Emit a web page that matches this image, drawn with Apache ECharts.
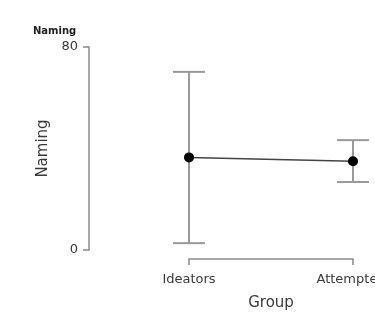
<!DOCTYPE html>
<html>
<head>
<meta charset="utf-8">
<script src="https://cdn.jsdelivr.net/npm/echarts@6/dist/echarts.min.js"></script>
<style>
  html, body { margin: 0; padding: 0; background: #fff; }
  #chart { width: 375px; height: 314px; }
</style>
</head>
<body>
<div id="chart"></div>
<script>
// 描述统计图：组均值 + 95% CI
var groups = ['Ideators', 'Attempters'];
var means = [36.5, 35.0];
var ciLower = [2.7, 26.8];
var ciUpper = [70.2, 43.3];
var yTicks = [0, 80];

var FONT = '"DejaVu Sans", "Liberation Sans", sans-serif';
var AXIS_GRAY = '#8a8a8a';
var TEXT = '#3a3a3a';

var chart = echarts.init(document.getElementById('chart'));

var errData = groups.map(function(g, i) {
    return [i, ciLower[i], ciUpper[i]];
});

var option = {
    animation: false,
    title: {
        text: 'Naming',
        left: 28,
        top: 21,
        textStyle: { fontSize: 10, fontWeight: 'bold', color: '#222', fontFamily: FONT }
    },
    grid: { left: 189, right: 22, top: 47, bottom: 64, outerBoundsMode: 'none', containLabel: false },
    xAxis: {
        type: 'category',
        data: groups,
        boundaryGap: false,
        offset: 9,
        name: 'Group',
        nameLocation: 'middle',
        nameGap: 37,
        nameTextStyle: { fontSize: 15, color: TEXT, fontFamily: FONT },
        axisLine: { onZero: false, lineStyle: { color: AXIS_GRAY, width: 1.5 } },
        axisTick: { show: true, length: 6, lineStyle: { color: AXIS_GRAY, width: 1.5 } },
        axisLabel: { margin: 14, fontSize: 13, color: TEXT, fontFamily: FONT },
        splitLine: { show: false }
    },
    yAxis: {
        type: 'value',
        min: yTicks[0],
        max: yTicks[1],
        interval: yTicks[1] - yTicks[0],
        offset: 100,
        name: 'Naming',
        nameLocation: 'middle',
        nameGap: 38,
        nameTextStyle: { fontSize: 15, color: TEXT, fontFamily: FONT },
        axisLine: { show: true, onZero: false, lineStyle: { color: AXIS_GRAY, width: 1.5 } },
        axisTick: { show: true, length: 6, lineStyle: { color: AXIS_GRAY, width: 1.5 } },
        axisLabel: { margin: 11, fontSize: 13, color: TEXT, fontFamily: FONT },
        splitLine: { show: false }
    },
    series: [
        {
            type: 'custom',
            clip: false,
            data: errData,
            renderItem: function(params, api) {
                var lo = api.coord([api.value(0), api.value(1)]);
                var hi = api.coord([api.value(0), api.value(2)]);
                var hw = 16;
                var style = { stroke: '#9a9a9a', lineWidth: 2 };
                return {
                    type: 'group',
                    children: [
                        { type: 'line', shape: { x1: lo[0], y1: lo[1], x2: hi[0], y2: hi[1] }, style: style },
                        { type: 'line', shape: { x1: hi[0] - hw, y1: hi[1], x2: hi[0] + hw, y2: hi[1] }, style: style },
                        { type: 'line', shape: { x1: lo[0] - hw, y1: lo[1], x2: lo[0] + hw, y2: lo[1] }, style: style }
                    ]
                };
            },
            z: 1
        },
        {
            type: 'line',
            data: means,
            symbol: 'circle',
            symbolSize: 10,
            itemStyle: { color: '#000' },
            lineStyle: { color: '#444', width: 1.5 },
            z: 2
        }
    ]
};

chart.setOption(option);
</script>
</body>
</html>
